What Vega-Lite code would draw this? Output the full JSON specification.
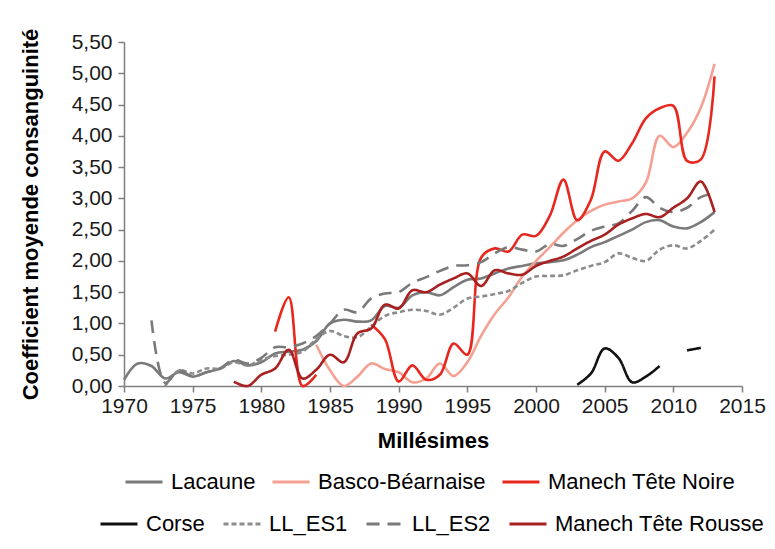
{
  "$schema": "https://vega.github.io/schema/vega-lite/v6.json",
  "autosize": "none",
  "width": 618,
  "height": 344,
  "padding": {"left": 124, "top": 42, "right": 33, "bottom": 163},
  "background": "white",
  "config": {
    "font": "Liberation Sans",
    "view": {"stroke": null},
    "axis": {
      "grid": false,
      "domainColor": "#7f7f7f",
      "domainWidth": 1.5,
      "tickColor": "#7f7f7f",
      "tickWidth": 1.5,
      "tickSize": 6,
      "labelColor": "#1a1a1a",
      "labelFontSize": 21,
      "labelOverlap": false,
      "titleFontSize": 22,
      "titleFontWeight": "bold",
      "titleColor": "#000000"
    },
    "legend": {"padding": 0}
  },
  "datasets": {
    "d": [
      {"s": "Lacaune", "an": 1970, "v": 0.10}, {"s": "Lacaune", "an": 1971, "v": 0.36}, {"s": "Lacaune", "an": 1972, "v": 0.32}, {"s": "Lacaune", "an": 1973, "v": 0.12},
      {"s": "Lacaune", "an": 1974, "v": 0.22}, {"s": "Lacaune", "an": 1975, "v": 0.15}, {"s": "Lacaune", "an": 1976, "v": 0.22}, {"s": "Lacaune", "an": 1977, "v": 0.28},
      {"s": "Lacaune", "an": 1978, "v": 0.40}, {"s": "Lacaune", "an": 1979, "v": 0.33}, {"s": "Lacaune", "an": 1980, "v": 0.38}, {"s": "Lacaune", "an": 1981, "v": 0.52},
      {"s": "Lacaune", "an": 1982, "v": 0.55}, {"s": "Lacaune", "an": 1983, "v": 0.58}, {"s": "Lacaune", "an": 1984, "v": 0.72}, {"s": "Lacaune", "an": 1985, "v": 1.00},
      {"s": "Lacaune", "an": 1986, "v": 1.06}, {"s": "Lacaune", "an": 1987, "v": 1.03}, {"s": "Lacaune", "an": 1988, "v": 1.05}, {"s": "Lacaune", "an": 1989, "v": 1.28},
      {"s": "Lacaune", "an": 1990, "v": 1.25}, {"s": "Lacaune", "an": 1991, "v": 1.45}, {"s": "Lacaune", "an": 1992, "v": 1.50}, {"s": "Lacaune", "an": 1993, "v": 1.45},
      {"s": "Lacaune", "an": 1994, "v": 1.58}, {"s": "Lacaune", "an": 1995, "v": 1.70}, {"s": "Lacaune", "an": 1996, "v": 1.72}, {"s": "Lacaune", "an": 1997, "v": 1.80},
      {"s": "Lacaune", "an": 1998, "v": 1.88}, {"s": "Lacaune", "an": 1999, "v": 1.92}, {"s": "Lacaune", "an": 2000, "v": 1.96}, {"s": "Lacaune", "an": 2001, "v": 1.98},
      {"s": "Lacaune", "an": 2002, "v": 2.01}, {"s": "Lacaune", "an": 2003, "v": 2.10}, {"s": "Lacaune", "an": 2004, "v": 2.22}, {"s": "Lacaune", "an": 2005, "v": 2.30},
      {"s": "Lacaune", "an": 2006, "v": 2.40}, {"s": "Lacaune", "an": 2007, "v": 2.50}, {"s": "Lacaune", "an": 2008, "v": 2.62}, {"s": "Lacaune", "an": 2009, "v": 2.65},
      {"s": "Lacaune", "an": 2010, "v": 2.55}, {"s": "Lacaune", "an": 2011, "v": 2.52}, {"s": "Lacaune", "an": 2012, "v": 2.62}, {"s": "Lacaune", "an": 2013, "v": 2.78},

      {"s": "Basco-Béarnaise", "an": 1984, "v": 0.66}, {"s": "Basco-Béarnaise", "an": 1985, "v": 0.25}, {"s": "Basco-Béarnaise", "an": 1986, "v": 0.00}, {"s": "Basco-Béarnaise", "an": 1987, "v": 0.15},
      {"s": "Basco-Béarnaise", "an": 1988, "v": 0.36}, {"s": "Basco-Béarnaise", "an": 1989, "v": 0.27}, {"s": "Basco-Béarnaise", "an": 1990, "v": 0.22}, {"s": "Basco-Béarnaise", "an": 1991, "v": 0.06},
      {"s": "Basco-Béarnaise", "an": 1992, "v": 0.12}, {"s": "Basco-Béarnaise", "an": 1993, "v": 0.36}, {"s": "Basco-Béarnaise", "an": 1994, "v": 0.16}, {"s": "Basco-Béarnaise", "an": 1995, "v": 0.38},
      {"s": "Basco-Béarnaise", "an": 1996, "v": 0.80}, {"s": "Basco-Béarnaise", "an": 1997, "v": 1.15}, {"s": "Basco-Béarnaise", "an": 1998, "v": 1.42}, {"s": "Basco-Béarnaise", "an": 1999, "v": 1.75},
      {"s": "Basco-Béarnaise", "an": 2000, "v": 2.00}, {"s": "Basco-Béarnaise", "an": 2001, "v": 2.22}, {"s": "Basco-Béarnaise", "an": 2002, "v": 2.45}, {"s": "Basco-Béarnaise", "an": 2003, "v": 2.65},
      {"s": "Basco-Béarnaise", "an": 2004, "v": 2.80}, {"s": "Basco-Béarnaise", "an": 2005, "v": 2.90}, {"s": "Basco-Béarnaise", "an": 2006, "v": 2.95}, {"s": "Basco-Béarnaise", "an": 2007, "v": 3.00},
      {"s": "Basco-Béarnaise", "an": 2008, "v": 3.25}, {"s": "Basco-Béarnaise", "an": 2009, "v": 4.00}, {"s": "Basco-Béarnaise", "an": 2010, "v": 3.82}, {"s": "Basco-Béarnaise", "an": 2011, "v": 4.05},
      {"s": "Basco-Béarnaise", "an": 2012, "v": 4.45}, {"s": "Basco-Béarnaise", "an": 2013, "v": 5.15},

      {"s": "Manech Tête Noire", "an": 1981, "v": 0.87}, {"s": "Manech Tête Noire", "an": 1982, "v": 1.42}, {"s": "Manech Tête Noire", "an": 1983, "v": 0.00}, {"s": "Manech Tête Noire", "an": 1984, "v": 0.18},
      {"s": "Manech Tête Noire", "an": 1985, "v": null}, {"s": "Manech Tête Noire", "an": 1986, "v": null}, {"s": "Manech Tête Noire", "an": 1987, "v": null},
      {"s": "Manech Tête Noire", "an": 1988, "v": 0.98}, {"s": "Manech Tête Noire", "an": 1989, "v": 0.75}, {"s": "Manech Tête Noire", "an": 1990, "v": 0.07}, {"s": "Manech Tête Noire", "an": 1991, "v": 0.33},
      {"s": "Manech Tête Noire", "an": 1992, "v": 0.10}, {"s": "Manech Tête Noire", "an": 1993, "v": 0.18}, {"s": "Manech Tête Noire", "an": 1994, "v": 0.68}, {"s": "Manech Tête Noire", "an": 1995, "v": 0.50},
      {"s": "Manech Tête Noire", "an": 1996, "v": 2.05}, {"s": "Manech Tête Noire", "an": 1997, "v": 2.20}, {"s": "Manech Tête Noire", "an": 1998, "v": 2.15}, {"s": "Manech Tête Noire", "an": 1999, "v": 2.42},
      {"s": "Manech Tête Noire", "an": 2000, "v": 2.40}, {"s": "Manech Tête Noire", "an": 2001, "v": 2.72}, {"s": "Manech Tête Noire", "an": 2002, "v": 3.30}, {"s": "Manech Tête Noire", "an": 2003, "v": 2.65},
      {"s": "Manech Tête Noire", "an": 2004, "v": 2.98}, {"s": "Manech Tête Noire", "an": 2005, "v": 3.75}, {"s": "Manech Tête Noire", "an": 2006, "v": 3.60}, {"s": "Manech Tête Noire", "an": 2007, "v": 3.88},
      {"s": "Manech Tête Noire", "an": 2008, "v": 4.28}, {"s": "Manech Tête Noire", "an": 2009, "v": 4.44}, {"s": "Manech Tête Noire", "an": 2010, "v": 4.48}, {"s": "Manech Tête Noire", "an": 2011, "v": 3.60},
      {"s": "Manech Tête Noire", "an": 2012, "v": 3.62}, {"s": "Manech Tête Noire", "an": 2013, "v": 4.95},

      {"s": "Corse", "an": 2003, "v": 0.02}, {"s": "Corse", "an": 2004, "v": 0.20}, {"s": "Corse", "an": 2005, "v": 0.60}, {"s": "Corse", "an": 2006, "v": 0.45},
      {"s": "Corse", "an": 2007, "v": 0.06}, {"s": "Corse", "an": 2008, "v": 0.15}, {"s": "Corse", "an": 2009, "v": 0.32}, {"s": "Corse", "an": 2010, "v": null},
      {"s": "Corse", "an": 2011, "v": 0.57}, {"s": "Corse", "an": 2012, "v": 0.61},

      {"s": "LL_ES1", "an": 1973, "v": 0.00}, {"s": "LL_ES1", "an": 1974, "v": 0.25}, {"s": "LL_ES1", "an": 1975, "v": 0.20}, {"s": "LL_ES1", "an": 1976, "v": 0.28},
      {"s": "LL_ES1", "an": 1977, "v": 0.28}, {"s": "LL_ES1", "an": 1978, "v": 0.38}, {"s": "LL_ES1", "an": 1979, "v": 0.33}, {"s": "LL_ES1", "an": 1980, "v": 0.42},
      {"s": "LL_ES1", "an": 1981, "v": 0.48}, {"s": "LL_ES1", "an": 1982, "v": 0.50}, {"s": "LL_ES1", "an": 1983, "v": 0.55}, {"s": "LL_ES1", "an": 1984, "v": 0.75},
      {"s": "LL_ES1", "an": 1985, "v": 0.88}, {"s": "LL_ES1", "an": 1986, "v": 0.80}, {"s": "LL_ES1", "an": 1987, "v": 0.78}, {"s": "LL_ES1", "an": 1988, "v": 0.95},
      {"s": "LL_ES1", "an": 1989, "v": 1.12}, {"s": "LL_ES1", "an": 1990, "v": 1.18}, {"s": "LL_ES1", "an": 1991, "v": 1.22}, {"s": "LL_ES1", "an": 1992, "v": 1.20},
      {"s": "LL_ES1", "an": 1993, "v": 1.14}, {"s": "LL_ES1", "an": 1994, "v": 1.25}, {"s": "LL_ES1", "an": 1995, "v": 1.40}, {"s": "LL_ES1", "an": 1996, "v": 1.43},
      {"s": "LL_ES1", "an": 1997, "v": 1.47}, {"s": "LL_ES1", "an": 1998, "v": 1.52}, {"s": "LL_ES1", "an": 1999, "v": 1.65}, {"s": "LL_ES1", "an": 2000, "v": 1.75},
      {"s": "LL_ES1", "an": 2001, "v": 1.76}, {"s": "LL_ES1", "an": 2002, "v": 1.77}, {"s": "LL_ES1", "an": 2003, "v": 1.85}, {"s": "LL_ES1", "an": 2004, "v": 1.92},
      {"s": "LL_ES1", "an": 2005, "v": 1.98}, {"s": "LL_ES1", "an": 2006, "v": 2.12}, {"s": "LL_ES1", "an": 2007, "v": 2.05}, {"s": "LL_ES1", "an": 2008, "v": 2.00},
      {"s": "LL_ES1", "an": 2009, "v": 2.18}, {"s": "LL_ES1", "an": 2010, "v": 2.25}, {"s": "LL_ES1", "an": 2011, "v": 2.20}, {"s": "LL_ES1", "an": 2012, "v": 2.32},
      {"s": "LL_ES1", "an": 2013, "v": 2.50},

      {"s": "LL_ES2", "an": 1972, "v": 1.05}, {"s": "LL_ES2", "an": 1973, "v": 0.05}, {"s": "LL_ES2", "an": 1974, "v": 0.25}, {"s": "LL_ES2", "an": 1975, "v": 0.15},
      {"s": "LL_ES2", "an": 1976, "v": 0.22}, {"s": "LL_ES2", "an": 1977, "v": 0.28}, {"s": "LL_ES2", "an": 1978, "v": 0.42}, {"s": "LL_ES2", "an": 1979, "v": 0.36},
      {"s": "LL_ES2", "an": 1980, "v": 0.45}, {"s": "LL_ES2", "an": 1981, "v": 0.62}, {"s": "LL_ES2", "an": 1982, "v": 0.62}, {"s": "LL_ES2", "an": 1983, "v": 0.68},
      {"s": "LL_ES2", "an": 1984, "v": 0.80}, {"s": "LL_ES2", "an": 1985, "v": 1.00}, {"s": "LL_ES2", "an": 1986, "v": 1.22}, {"s": "LL_ES2", "an": 1987, "v": 1.18},
      {"s": "LL_ES2", "an": 1988, "v": 1.40}, {"s": "LL_ES2", "an": 1989, "v": 1.48}, {"s": "LL_ES2", "an": 1990, "v": 1.50}, {"s": "LL_ES2", "an": 1991, "v": 1.65},
      {"s": "LL_ES2", "an": 1992, "v": 1.74}, {"s": "LL_ES2", "an": 1993, "v": 1.84}, {"s": "LL_ES2", "an": 1994, "v": 1.92}, {"s": "LL_ES2", "an": 1995, "v": 1.93},
      {"s": "LL_ES2", "an": 1996, "v": 1.98}, {"s": "LL_ES2", "an": 1997, "v": 2.12}, {"s": "LL_ES2", "an": 1998, "v": 2.22}, {"s": "LL_ES2", "an": 1999, "v": 2.18},
      {"s": "LL_ES2", "an": 2000, "v": 2.15}, {"s": "LL_ES2", "an": 2001, "v": 2.27}, {"s": "LL_ES2", "an": 2002, "v": 2.24}, {"s": "LL_ES2", "an": 2003, "v": 2.35},
      {"s": "LL_ES2", "an": 2004, "v": 2.48}, {"s": "LL_ES2", "an": 2005, "v": 2.55}, {"s": "LL_ES2", "an": 2006, "v": 2.60}, {"s": "LL_ES2", "an": 2007, "v": 2.80},
      {"s": "LL_ES2", "an": 2008, "v": 3.02}, {"s": "LL_ES2", "an": 2009, "v": 2.85}, {"s": "LL_ES2", "an": 2010, "v": 2.78}, {"s": "LL_ES2", "an": 2011, "v": 2.85},
      {"s": "LL_ES2", "an": 2012, "v": 3.02}, {"s": "LL_ES2", "an": 2013, "v": 3.08},

      {"s": "Manech Tête Rousse", "an": 1978, "v": 0.07}, {"s": "Manech Tête Rousse", "an": 1979, "v": 0.00}, {"s": "Manech Tête Rousse", "an": 1980, "v": 0.18}, {"s": "Manech Tête Rousse", "an": 1981, "v": 0.28},
      {"s": "Manech Tête Rousse", "an": 1982, "v": 0.58}, {"s": "Manech Tête Rousse", "an": 1983, "v": 0.12}, {"s": "Manech Tête Rousse", "an": 1984, "v": 0.26}, {"s": "Manech Tête Rousse", "an": 1985, "v": 0.50},
      {"s": "Manech Tête Rousse", "an": 1986, "v": 0.38}, {"s": "Manech Tête Rousse", "an": 1987, "v": 0.84}, {"s": "Manech Tête Rousse", "an": 1988, "v": 0.92}, {"s": "Manech Tête Rousse", "an": 1989, "v": 1.30},
      {"s": "Manech Tête Rousse", "an": 1990, "v": 1.24}, {"s": "Manech Tête Rousse", "an": 1991, "v": 1.53}, {"s": "Manech Tête Rousse", "an": 1992, "v": 1.50}, {"s": "Manech Tête Rousse", "an": 1993, "v": 1.62},
      {"s": "Manech Tête Rousse", "an": 1994, "v": 1.72}, {"s": "Manech Tête Rousse", "an": 1995, "v": 1.80}, {"s": "Manech Tête Rousse", "an": 1996, "v": 1.60}, {"s": "Manech Tête Rousse", "an": 1997, "v": 1.85},
      {"s": "Manech Tête Rousse", "an": 1998, "v": 1.80}, {"s": "Manech Tête Rousse", "an": 1999, "v": 1.78}, {"s": "Manech Tête Rousse", "an": 2000, "v": 1.92}, {"s": "Manech Tête Rousse", "an": 2001, "v": 2.00},
      {"s": "Manech Tête Rousse", "an": 2002, "v": 2.07}, {"s": "Manech Tête Rousse", "an": 2003, "v": 2.20}, {"s": "Manech Tête Rousse", "an": 2004, "v": 2.32}, {"s": "Manech Tête Rousse", "an": 2005, "v": 2.42},
      {"s": "Manech Tête Rousse", "an": 2006, "v": 2.58}, {"s": "Manech Tête Rousse", "an": 2007, "v": 2.68}, {"s": "Manech Tête Rousse", "an": 2008, "v": 2.75}, {"s": "Manech Tête Rousse", "an": 2009, "v": 2.70},
      {"s": "Manech Tête Rousse", "an": 2010, "v": 2.85}, {"s": "Manech Tête Rousse", "an": 2011, "v": 3.00}, {"s": "Manech Tête Rousse", "an": 2012, "v": 3.27}, {"s": "Manech Tête Rousse", "an": 2013, "v": 2.78}
    ]
  },
  "data": {"name": "d"},
  "encoding": {
    "x": {
      "field": "an", "type": "quantitative",
      "scale": {"domain": [1970, 2015], "nice": false, "zero": false},
      "axis": {
        "title": "Millésimes",
        "values": [1970, 1975, 1980, 1985, 1990, 1995, 2000, 2005, 2010, 2015],
        "tickCount": 10,
        "format": "d",
        "labelOverlap": false,
        "labelFlush": false,
        "labelPadding": 3,
        "titleY": 54,
        "titleBaseline": "middle"
      }
    },
    "y": {
      "field": "v", "type": "quantitative",
      "scale": {"domain": [0, 5.5], "nice": false},
      "axis": {
        "title": "Coefficient moyende consanguinité",
        "values": [0, 0.5, 1, 1.5, 2, 2.5, 3, 3.5, 4, 4.5, 5, 5.5],
        "labelExpr": "replace(format(datum.value, '.2f'), '.', ',')",
        "labelPadding": 6,
        "titleX": -94,
        "titleY": 172,
        "titleAngle": -90,
        "titleAlign": "center",
        "titleBaseline": "middle"
      }
    }
  },
  "layer": [
    {
      "transform": [{"filter": {"field": "s", "oneOf": ["Lacaune", "Basco-Béarnaise", "Manech Tête Noire"]}}],
      "mark": {"type": "line", "interpolate": "catmull-rom", "strokeWidth": 2.6, "invalid": "break-paths-show-domains"},
      "encoding": {
        "color": {
          "field": "s", "type": "nominal",
          "scale": {"domain": ["Lacaune", "Basco-Béarnaise", "Manech Tête Noire"], "range": ["#7a7a7a", "#f4a092", "#e8281f"]},
          "legend": {
            "title": null, "orient": "none", "legendX": 0, "legendY": 420, "direction": "horizontal",
            "symbolType": "stroke", "symbolSize": 1369, "symbolStrokeWidth": 3,
            "labelFontSize": 22, "labelColor": "#000000", "labelOffset": 7, "columnPadding": 10, "labelLimit": 400
          }
        }
      }
    },
    {
      "transform": [{"filter": {"field": "s", "oneOf": ["Corse", "LL_ES1", "LL_ES2", "Manech Tête Rousse"]}}],
      "mark": {"type": "line", "interpolate": "catmull-rom", "strokeWidth": 2.6, "invalid": "break-paths-show-domains"},
      "encoding": {
        "color": {
          "field": "s", "type": "nominal",
          "scale": {"domain": ["Corse", "LL_ES1", "LL_ES2", "Manech Tête Rousse"], "range": ["#111111", "#8c8c8c", "#7a7a7a", "#a8201f"]},
          "legend": {
            "title": null, "orient": "none", "legendX": -25, "legendY": 462, "direction": "horizontal",
            "symbolType": "stroke", "symbolSize": 1369, "symbolStrokeWidth": 3,
            "labelFontSize": 22, "labelColor": "#000000", "labelOffset": 7, "columnPadding": 12, "labelLimit": 400
          }
        },
        "strokeDash": {
          "field": "s", "type": "nominal",
          "scale": {"domain": ["Corse", "LL_ES1", "LL_ES2", "Manech Tête Rousse"], "range": [[1, 0], [5, 3], [13, 8], [1, 0]]},
          "legend": {
            "title": null, "orient": "none", "legendX": -25, "legendY": 462, "direction": "horizontal",
            "symbolType": "stroke", "symbolSize": 1369, "symbolStrokeWidth": 3,
            "labelFontSize": 22, "labelColor": "#000000", "labelOffset": 7, "columnPadding": 12, "labelLimit": 400
          }
        }
      }
    }
  ],
  "resolve": {"scale": {"color": "independent", "strokeDash": "independent"}}
}
